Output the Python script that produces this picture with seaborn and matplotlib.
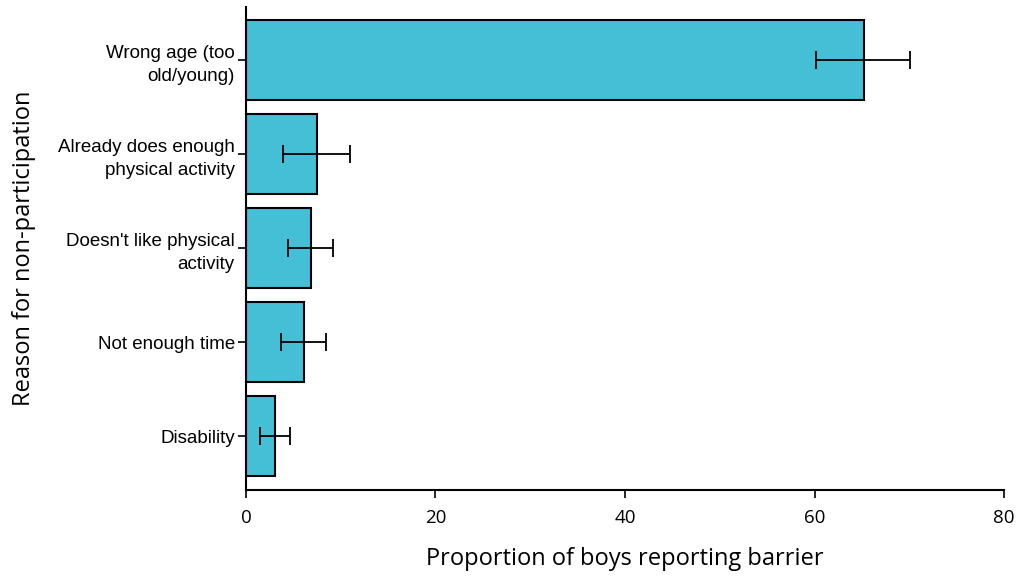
import pandas as pd
import matplotlib
matplotlib.use('Agg')
import matplotlib.pyplot as plt
import seaborn as sns

reasons = ['Wrong age (too\nold/young)', 'Already does enough\nphysical activity',
           'Doesn\'t like physical\nactivity', 'Not enough time', 'Disability']
proportion = [65.2, 7.5, 6.9, 6.1, 3.1]
ci_low = [60.2, 3.9, 4.4, 3.7, 1.5]
ci_high = [70.1, 11.0, 9.2, 8.4, 4.6]

data = pd.DataFrame({'reason': reasons, 'proportion': proportion,
                     'low': ci_low, 'high': ci_high})

sns.set_style('ticks', {'text.color': 'black', 'axes.labelcolor': 'black',
                        'xtick.color': 'black', 'ytick.color': 'black',
                        'axes.edgecolor': 'black'})
plt.rcParams['font.family'] = ['Liberation Sans', 'DejaVu Sans']

fig = plt.figure(figsize=(10.16, 5.77), dpi=100)
ax = fig.add_axes([0.2421, 0.1508, 0.7461, 0.8371])

sns.barplot(data=data, y='reason', x='proportion', color='#45BFD6', saturation=1,
            edgecolor='black', linewidth=1.5, width=0.85, errorbar=None, ax=ax)

# error bars are not centred on the bar value, so use asymmetric errors
mid = (data['low'] + data['high']) / 2
ax.errorbar(mid, range(len(data)), xerr=(data['high'] - data['low']) / 2,
            fmt='none', ecolor='black', elinewidth=1.3, capsize=6.5, capthick=1.3)

ax.set_xlim(0, 80)
ax.set_ylim(4.57, -0.56)
ax.set_xticks([0, 20, 40, 60, 80])
ax.tick_params(axis='y', labelsize=13.5, length=6, width=1.2, pad=2)
ax.tick_params(axis='x', labelsize=13.5, length=6, width=1.2, pad=8)
for lbl in ax.get_yticklabels():
    lbl.set_linespacing(1.45)
for lbl in ax.get_xticklabels():
    lbl.set_family(['Open Sans', 'DejaVu Sans'])

ax.set_xlabel('Proportion of boys reporting barrier', fontsize=17,
              family=['Open Sans', 'DejaVu Sans'], labelpad=14)
ax.set_ylabel('Reason for non-participation', fontsize=17,
              family=['Open Sans', 'DejaVu Sans'], labelpad=16)

for side in ['top', 'right']:
    ax.spines[side].set_visible(False)
for side in ['left', 'bottom']:
    ax.spines[side].set_linewidth(1.5)

plt.savefig('out.png', dpi=100)
